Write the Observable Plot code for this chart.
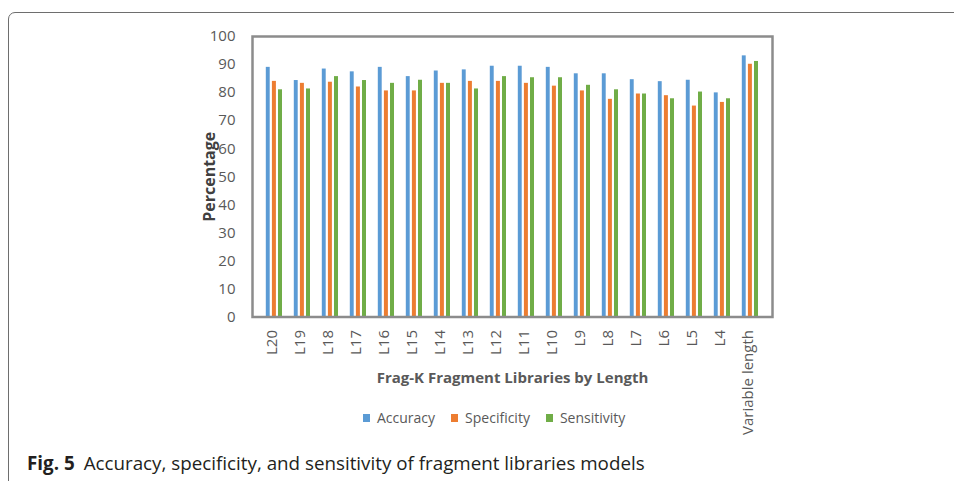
<!DOCTYPE html>
<html>
<head>
<meta charset="utf-8">
<script src="https://cdn.jsdelivr.net/npm/d3@7"></script>
<script src="https://cdn.jsdelivr.net/npm/@observablehq/plot@0.6"></script>
<style>
  html, body { margin: 0; padding: 0; background: #fff; overflow: hidden; }
  #page { position: relative; width: 954px; height: 481px; overflow: hidden; font-family: "Open Sans", sans-serif; }
  #box { position: absolute; left: 8px; top: 12px; width: 1000px; height: 520px; border: 1.4px solid #6e6e6e; border-top-left-radius: 7px; box-sizing: border-box; }
  #chart { position: absolute; left: 0; top: 0; }
  #legend { position: absolute; top: 408px; left: 363px; display: flex; align-items: center; font-size: 14px; color: #595959; white-space: nowrap; }
  #legend .item { display: flex; align-items: center; margin-right: 16px; }
  #legend .sw { width: 7px; height: 8px; margin-right: 7px; }
  #caption { position: absolute; top: 450px; left: 27px; font-size: 18.8px; color: #231f20; white-space: nowrap; font-family: "Open Sans", sans-serif; letter-spacing: 0; }
  #caption b { font-weight: 700; margin-right: 9px; }
</style>
</head>
<body>
<div id="page">
  <div id="box"></div>
  <div id="chart"></div>
  <div id="legend"></div>
  <div id="caption"><b>Fig. 5</b>Accuracy, specificity, and sensitivity of fragment libraries models</div>
</div>
<script>
const categories = ["L20","L19","L18","L17","L16","L15","L14","L13","L12","L11","L10","L9","L8","L7","L6","L5","L4","Variable length"];
const accuracy    = [89.0, 84.3, 88.4, 87.4, 89.0, 85.7, 87.7, 88.1, 89.4, 89.4, 89.0, 86.7, 86.7, 84.6, 83.9, 84.4, 79.9, 93.1];
const specificity = [84.0, 83.3, 83.7, 82.0, 80.6, 80.6, 83.3, 84.0, 84.0, 83.3, 82.3, 80.6, 77.6, 79.5, 78.9, 75.2, 76.5, 90.1];
const sensitivity = [81.0, 81.3, 85.7, 84.3, 83.3, 84.4, 83.3, 81.3, 85.7, 85.3, 85.3, 82.6, 81.0, 79.5, 77.8, 80.2, 77.8, 91.1];
const seriesNames = ["Accuracy", "Specificity", "Sensitivity"];
const yTicks = [0, 10, 20, 30, 40, 50, 60, 70, 80, 90, 100];

const colors = {Accuracy: "#5B9BD5", Specificity: "#ED7D31", Sensitivity: "#70AD47"};
const seriesValues = {Accuracy: accuracy, Specificity: specificity, Sensitivity: sensitivity};
// inset [left, right] within each band (band width ~28.9px)
const insets = {Accuracy: [5.8, 18.3], Specificity: [11.9, 12.1], Sensitivity: [18.0, 6.0]};

const W = 954, H = 445;
const chart = Plot.plot({
  width: W,
  height: H,
  marginLeft: 252,
  marginRight: 182,
  marginTop: 36,
  marginBottom: H - 316.5,
  style: {fontFamily: "'Open Sans', sans-serif", background: "transparent", overflow: "visible"},
  x: {type: "band", domain: categories, padding: 0},
  y: {domain: [0, 100]},
  marks: [
    ...seriesNames.map(s => Plot.barY(categories, {
      x: d => d,
      y: (d, i) => seriesValues[s][i],
      fill: colors[s],
      insetLeft: insets[s][0],
      insetRight: insets[s][1]
    })),
    Plot.frame({stroke: "#8c8c8c", strokeWidth: 2.5}),
    Plot.axisY({ticks: yTicks, tickSize: 0, tickPadding: 17, fontSize: 15, color: "#595959", label: null}),
    Plot.axisX({tickSize: 0, tickPadding: 13, tickRotate: -90, fontSize: 15, dx: -2, color: "#595959", label: null}),
    Plot.text(["Percentage"], {frameAnchor: "left", textAnchor: "middle", dx: -43, rotate: -90, fontSize: 16, fontWeight: "bold", fill: "#404040"}),
    Plot.text(["Frag-K Fragment Libraries by Length"], {frameAnchor: "bottom", dy: 65.5, fontSize: 15, fontWeight: "bold", fill: "#595959"})
  ]
});
document.getElementById("chart").appendChild(chart);

const legend = document.getElementById("legend");
for (const s of seriesNames) {
  const item = document.createElement("div");
  item.className = "item";
  const sw = document.createElement("span");
  sw.className = "sw";
  sw.style.background = colors[s];
  const t = document.createElement("span");
  t.textContent = s;
  item.appendChild(sw);
  item.appendChild(t);
  legend.appendChild(item);
}
</script>
</body>
</html>
